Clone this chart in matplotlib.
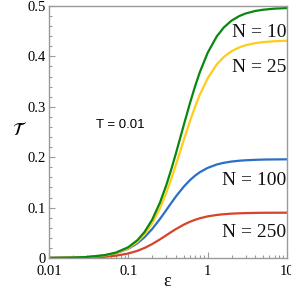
import matplotlib
matplotlib.use("Agg")
import matplotlib.pyplot as plt
from matplotlib.ticker import MultipleLocator, LogLocator, NullFormatter, FixedLocator, FixedFormatter

# Data
eps = [0.01, 0.02, 0.03, 0.05, 0.07, 0.1, 0.13, 0.16, 0.2, 0.25, 0.3, 0.35, 0.4,
       0.5, 0.6, 0.7, 0.8, 1.0, 1.3, 1.6, 2.0, 2.5, 3.0, 4.0, 5.0, 7.0, 10.0]
T_N10 = [0.0002, 0.0009, 0.0020, 0.0056, 0.0108, 0.0215, 0.0353, 0.0516, 0.0762, 0.1096,
         0.1439, 0.1773, 0.2088, 0.2639, 0.3080, 0.3426, 0.3695, 0.4071, 0.4395, 0.4575,
         0.4710, 0.4800, 0.4851, 0.4902, 0.4926, 0.4948, 0.4959]
T_N25 = [0.0002, 0.0008, 0.0018, 0.0050, 0.0098, 0.0195, 0.0320, 0.0466, 0.0687, 0.0985,
         0.1289, 0.1584, 0.1860, 0.2340, 0.2721, 0.3017, 0.3247, 0.3566, 0.3839, 0.3990,
         0.4103, 0.4179, 0.4221, 0.4264, 0.4284, 0.4301, 0.4311]
T_N100 = [0.0002, 0.0008, 0.0018, 0.0050, 0.0095, 0.0185, 0.0293, 0.0413, 0.0576, 0.0773,
          0.0948, 0.1099, 0.1225, 0.1416, 0.1547, 0.1639, 0.1704, 0.1788, 0.1855, 0.1889,
          0.1914, 0.1930, 0.1939, 0.1948, 0.1953, 0.1956, 0.1958]
T_N250 = [0.0001, 0.0004, 0.0009, 0.0024, 0.0046, 0.0090, 0.0142, 0.0199, 0.0277, 0.0369,
          0.0450, 0.0519, 0.0576, 0.0662, 0.0720, 0.0760, 0.0789, 0.0826, 0.0854, 0.0869,
          0.0880, 0.0887, 0.0891, 0.0895, 0.0897, 0.0898, 0.0899]

series = [T_N250, T_N100, T_N25, T_N10]
colors = ["#d6442a", "#2a6fc6", "#ffcc1a", "#0a870f"]

x_ticks = [0.01, 0.1, 1, 10]
x_ticklabels = ["0.01", "0.1", "1", "10"]
y_ticks = [0, 0.1, 0.2, 0.3, 0.4, 0.5]
y_ticklabels = ["0", "0.1", "0.2", "0.3", "0.4", "0.5"]

W, H = 291, 292
L, R, TOP, BOT = 49, 287, 6, 258
fig = plt.figure(figsize=(W / 100, H / 100), dpi=100)
ax = fig.add_axes([L / W, 1 - BOT / H, (R - L) / W, (BOT - TOP) / H])

for vals, c in zip(series, colors):
    ax.plot(eps, vals, color=c, lw=1.6, solid_capstyle="round")

ax.set_xscale("log")
ax.set_xlim(0.01, 10)
ax.set_ylim(0, 0.5)

serif = "Liberation Serif"
ax.xaxis.set_major_locator(FixedLocator(x_ticks))
ax.xaxis.set_major_formatter(FixedFormatter(x_ticklabels))
ax.xaxis.set_minor_locator(LogLocator(base=10, subs=range(2, 10)))
ax.xaxis.set_minor_formatter(NullFormatter())
ax.yaxis.set_major_locator(FixedLocator(y_ticks))
ax.yaxis.set_major_formatter(FixedFormatter(y_ticklabels))
ax.yaxis.set_minor_locator(MultipleLocator(0.02))

spine_c = "#9a9a9a"
for s in ax.spines.values():
    s.set_color(spine_c)
    s.set_linewidth(1.0)
ax.tick_params(which="both", direction="in", color=spine_c, width=0.8,
               top=False, right=False)
ax.tick_params(which="major", length=4)
ax.tick_params(which="minor", length=2.2)
ax.tick_params(axis="x", which="major", pad=5, labelsize=10.5)
ax.tick_params(axis="y", which="major", pad=2, labelsize=10.5)
for lab in ax.get_xticklabels() + ax.get_yticklabels():
    lab.set_fontfamily(serif)


def axfrac(px, py):
    return (px - L) / (R - L), (BOT - py) / (BOT - TOP)


fs_lab = 14
for (px, py, s, ha) in [(232, 37, "N = 10", "left"), (232, 72, "N = 25", "left"),
                        (286, 185, "N = 100", "right"), (286, 237, "N = 250", "right")]:
    xa, ya = axfrac(px, py)
    ax.text(xa, ya, s, fontsize=fs_lab, family=serif, ha=ha, va="baseline",
            transform=ax.transAxes, clip_on=True, color="#111111")

xa, ya = axfrac(96, 128)
ax.text(xa, ya, "T = 0.01", fontsize=9.5, family="Liberation Sans", ha="left",
        va="baseline", transform=ax.transAxes)

fig.text(20 / W, 1 - 130 / H, r"$\mathcal{T}$", fontsize=13, ha="center", va="center")
fig.text(167 / W, 1 - 281 / H, "ε", fontsize=13, family=serif, ha="center", va="center")

fig.savefig("out.png", dpi=100)
